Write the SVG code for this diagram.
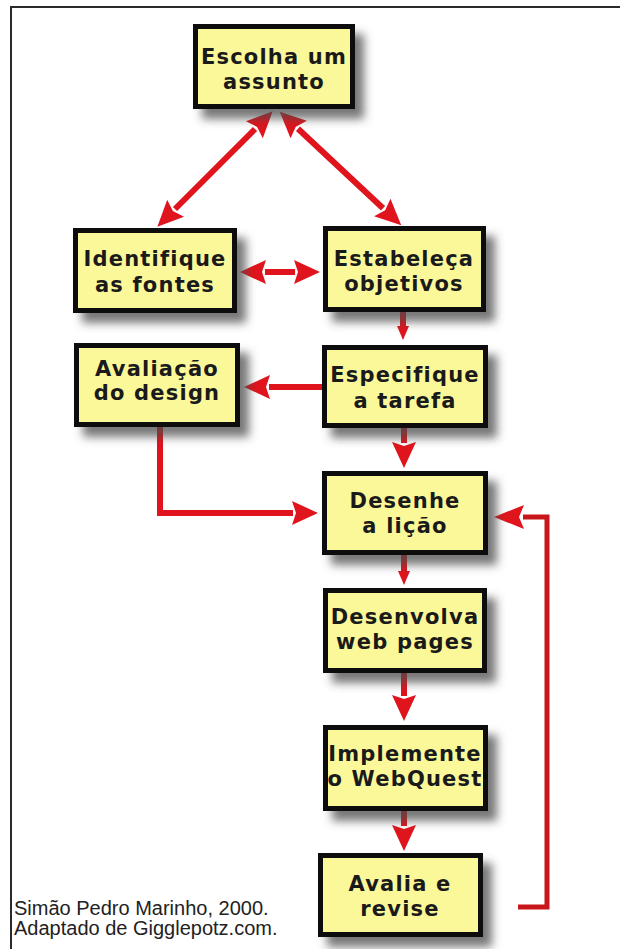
<svg xmlns="http://www.w3.org/2000/svg" width="620" height="949" viewBox="0 0 620 949">
  <defs>
    <filter id="shadow" x="-20%" y="-20%" width="150%" height="160%">
      <feDropShadow dx="9" dy="10" stdDeviation="5" flood-color="#4a4a4a" flood-opacity="0.75"/>
    </filter>
    <!-- arrowheads: base at x=0, tip at the far end -->
    <marker id="head" viewBox="0 0 26 24" refX="1" refY="12" markerWidth="26" markerHeight="24" markerUnits="userSpaceOnUse" orient="auto-start-reverse">
      <path d="M0,0 L26,12 L0,24 L4,12 z" fill="#e0141c"/>
    </marker>
    <marker id="headSmall" viewBox="0 0 14 12" refX="1" refY="6" markerWidth="14" markerHeight="12" markerUnits="userSpaceOnUse" orient="auto">
      <path d="M0,0 L14,6 L0,12 z" fill="#e0141c"/>
    </marker>
    <marker id="headBack" viewBox="0 0 30 24" refX="1" refY="12" markerWidth="30" markerHeight="24" markerUnits="userSpaceOnUse" orient="auto">
      <path d="M0,0 L30,12 L0,24 L5,12 z" fill="#e0141c"/>
    </marker>
    <style>
      .box { fill: #fbf899; stroke: #0a0a0a; stroke-width: 5; filter: url(#shadow); }
      .lbl { font-family: "DejaVu Sans", Verdana, sans-serif; font-weight: bold; font-size: 21px; letter-spacing: 1.2px; fill: #1a1a1a; text-anchor: middle; }
      .link { fill: none; stroke: #e0141c; stroke-width: 6; }
      .thin { fill: none; stroke: #c8161b; stroke-width: 5; }
      .credit { font-family: "Liberation Sans", Arial, sans-serif; font-size: 20px; fill: #222; }
    </style>
  </defs>

  <rect width="620" height="949" fill="#ffffff"/>
  <!-- frame -->
  <path d="M11,949 V7 H620" fill="none" stroke="#2a2a2a" stroke-width="2"/>

  <!-- connectors -->
  <g id="connectors">
    <line class="link" x1="255" y1="129" x2="175" y2="209" marker-start="url(#head)" marker-end="url(#head)"/>
    <line class="link" x1="298" y1="128.8" x2="383" y2="208.2" marker-start="url(#head)" marker-end="url(#head)"/>
    <line class="link" stroke-width="8" x1="265" y1="272" x2="295" y2="272" marker-start="url(#head)" marker-end="url(#head)"/>
    <line class="link" stroke-width="5" x1="403" y1="312" x2="403" y2="327" marker-end="url(#headSmall)"/>
    <line class="link" x1="322" y1="387" x2="269" y2="387" marker-end="url(#head)"/>
    <line class="link" x1="404" y1="428" x2="404" y2="443" marker-end="url(#head)"/>
    <path class="link" d="M160,427 V513 H293" marker-end="url(#head)"/>
    <line class="link" stroke-width="5" x1="404" y1="555" x2="404" y2="572" marker-end="url(#headSmall)"/>
    <line class="link" x1="404" y1="673" x2="404" y2="696" marker-end="url(#head)"/>
    <line class="link" x1="404" y1="811" x2="404" y2="826" marker-end="url(#head)"/>
    <path class="thin" d="M518,907 H547 V517 H523" marker-end="url(#headBack)"/>
  </g>

  <!-- nodes -->
  <g id="escolha">
    <rect class="box" x="195.5" y="26.5" width="157" height="80"/>
    <text class="lbl" x="274" y="64">Escolha um</text>
    <text class="lbl" x="274" y="89">assunto</text>
  </g>
  <g id="identifique">
    <rect class="box" x="75.5" y="230.5" width="159" height="80"/>
    <text class="lbl" x="155" y="266">Identifique</text>
    <text class="lbl" x="155" y="292">as fontes</text>
  </g>
  <g id="estabeleca">
    <rect class="box" x="325.5" y="228.5" width="158" height="81"/>
    <text class="lbl" x="404" y="266">Estabeleça</text>
    <text class="lbl" x="404" y="291">objetivos</text>
  </g>
  <g id="avaliacao">
    <rect class="box" x="76.5" y="345.5" width="161" height="79"/>
    <text class="lbl" x="157" y="376">Avaliação</text>
    <text class="lbl" x="157" y="400">do design</text>
  </g>
  <g id="especifique">
    <rect class="box" x="324.5" y="347.5" width="161" height="78"/>
    <text class="lbl" x="405" y="382">Especifique</text>
    <text class="lbl" x="405" y="408">a tarefa</text>
  </g>
  <g id="desenhe">
    <rect class="box" x="324.5" y="473.5" width="161" height="79"/>
    <text class="lbl" x="405" y="508">Desenhe</text>
    <text class="lbl" x="405" y="533">a lição</text>
  </g>
  <g id="desenvolva">
    <rect class="box" x="325.5" y="590.5" width="159" height="80"/>
    <text class="lbl" x="405" y="624">Desenvolva</text>
    <text class="lbl" x="405" y="649">web pages</text>
  </g>
  <g id="implemente">
    <rect class="box" x="325.5" y="727.5" width="160" height="81"/>
    <text class="lbl" x="405" y="761">Implemente</text>
    <text class="lbl" x="405" y="786">o WebQuest</text>
  </g>
  <g id="avalia">
    <rect class="box" x="320.5" y="855.5" width="160" height="79"/>
    <text class="lbl" x="400" y="891">Avalia e</text>
    <text class="lbl" x="400" y="916">revise</text>
  </g>

  <!-- credit -->
  <text class="credit" x="14" y="915">Simão Pedro Marinho, 2000.</text>
  <text class="credit" x="14" y="935">Adaptado de Gigglepotz.com.</text>
</svg>
